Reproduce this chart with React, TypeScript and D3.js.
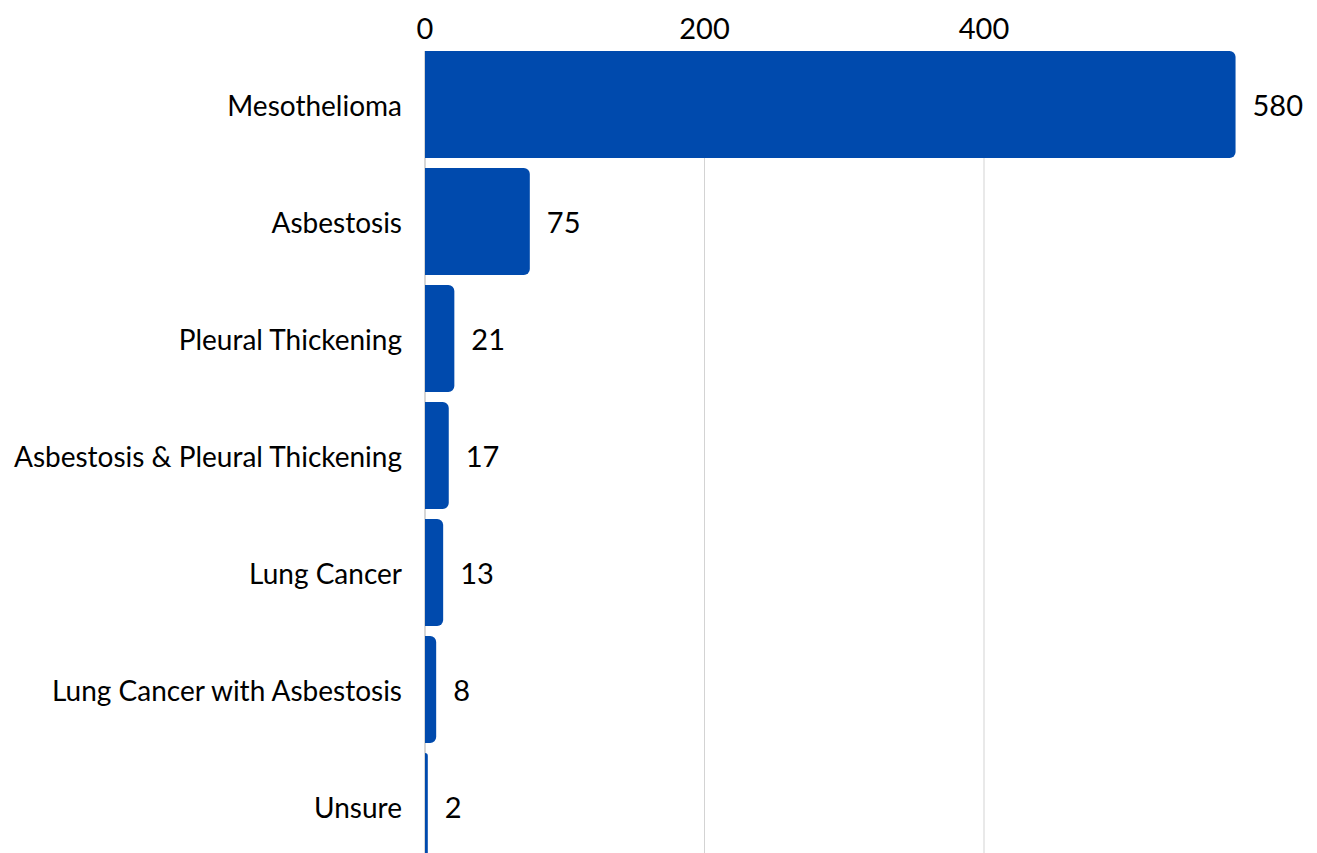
import React from "react";
import * as d3 from "d3";

const categories = [
  "Mesothelioma",
  "Asbestosis",
  "Pleural Thickening",
  "Asbestosis & Pleural Thickening",
  "Lung Cancer",
  "Lung Cancer with Asbestosis",
  "Unsure",
];
const values = [580, 75, 21, 17, 13, 8, 2];
const tickValues = [0, 200, 400];

const W = 1317;
const H = 853;
const FONT = "Lato, 'Open Sans', sans-serif";
const BAR = "#004aad";

function roundedRightBar(x0: number, y: number, w: number, h: number, r: number) {
  const rr = Math.min(r, w, h / 2);
  const p = d3.path();
  p.moveTo(x0, y);
  p.lineTo(x0 + w - rr, y);
  p.arcTo(x0 + w, y, x0 + w, y + rr, rr);
  p.lineTo(x0 + w, y + h - rr);
  p.arcTo(x0 + w, y + h, x0 + w - rr, y + h, rr);
  p.lineTo(x0, y + h);
  p.closePath();
  return p.toString();
}

export default function App() {
  const x = d3.scaleLinear().domain([0, 200]).range([425, 704.5]);
  const y = d3
    .scaleBand<string>()
    .domain(categories)
    .range([46, 46 + 117 * 7])
    .paddingInner(10 / 117)
    .paddingOuter(5 / 117);
  const bw = y.bandwidth();
  return (
    <svg
      width={W}
      height={H}
      style={{ position: "absolute", left: 0, top: 0, background: "#fff" }}
      fontFamily={FONT}
    >
      {tickValues.map((t) => (
        <g key={t}>
          {t > 0 && (
            <line x1={x(t)} x2={x(t)} y1={51} y2={H} stroke="#d3d3d3" strokeWidth={1} />
          )}
          <text x={x(t)} y={27} textAnchor="middle" dominantBaseline="central" fontSize={29} fill="#000">
            {t}
          </text>
        </g>
      ))}
      <line x1={x(0)} x2={x(0)} y1={51} y2={H} stroke="#c8c8c8" strokeWidth={1.5} />
      {categories.map((c, i) => {
        const yy = y(c)!;
        const w = x(values[i]) - x(0);
        return (
          <g key={c}>
            <path d={roundedRightBar(x(0), yy, w, bw, 6)} fill={BAR} />
            <text
              x={402}
              y={yy + bw / 2}
              textAnchor="end"
              dominantBaseline="central"
              fontSize={28}
              fill="#000"
            >
              {c}
            </text>
            <text
              x={x(values[i]) + 17}
              y={yy + bw / 2}
              textAnchor="start"
              dominantBaseline="central"
              fontSize={29}
              fill="#000"
            >
              {values[i]}
            </text>
          </g>
        );
      })}
    </svg>
  );
}
